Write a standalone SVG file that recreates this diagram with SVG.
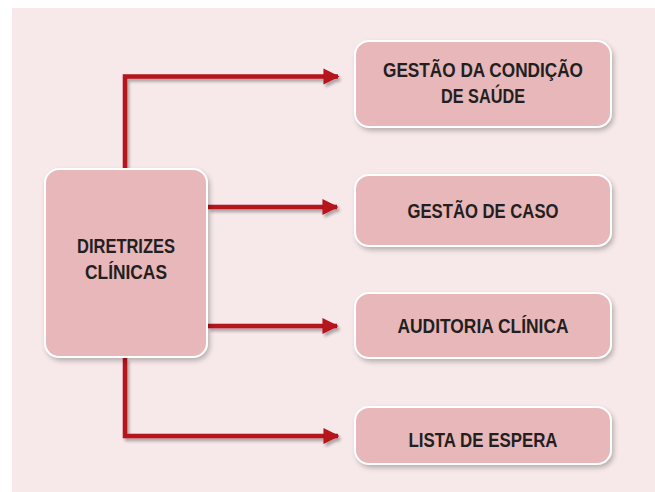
<svg xmlns="http://www.w3.org/2000/svg" width="655" height="492" viewBox="0 0 655 492">
<defs>
<filter id="sh" x="-10%" y="-10%" width="125%" height="130%">
<feGaussianBlur in="SourceAlpha" stdDeviation="2.5"/>
<feOffset dx="2" dy="3" result="b"/>
<feComponentTransfer><feFuncA type="linear" slope="0.25"/></feComponentTransfer>
<feMerge><feMergeNode/><feMergeNode in="SourceGraphic"/></feMerge>
</filter>
<filter id="lsh" x="-10%" y="-10%" width="125%" height="130%">
<feGaussianBlur in="SourceAlpha" stdDeviation="1.5"/>
<feOffset dx="2" dy="3" result="b"/>
<feComponentTransfer><feFuncA type="linear" slope="0.3"/></feComponentTransfer>
<feMerge><feMergeNode/><feMergeNode in="SourceGraphic"/></feMerge>
</filter>
<marker id="ah" viewBox="0 0 10 10" refX="9" refY="5" markerWidth="3.6" markerHeight="3.8" orient="auto" markerUnits="strokeWidth">
<path d="M0,0 L10,5 L0,10 z" fill="#b5121b"/>
</marker>
</defs>
<style>
.box{fill:#e8b7ba;stroke:#ffffff;stroke-width:2;filter:url(#sh)}
.t{font-family:"Liberation Sans",Arial,sans-serif;font-weight:bold;font-size:21px;fill:#231f20;text-anchor:middle}
.c{fill:none;stroke:#b5121b;stroke-width:4.5;stroke-linejoin:miter;marker-end:url(#ah)}
</style>
<rect x="12" y="8" width="643" height="484" fill="#f7e9ea"/>
<g id="connectors" filter="url(#lsh)">
<path class="c" d="M125,168 L125,76.5 L338,76.5"/>
<path class="c" d="M208,207 L337,207"/>
<path class="c" d="M208,326 L337,326"/>
<path class="c" d="M125,358 L125,436 L338,436"/>
</g>
<g id="diretrizes">
<rect class="box" x="45" y="169" width="162" height="188" rx="14"/>
<text class="t" x="126" y="253" textLength="98" lengthAdjust="spacingAndGlyphs">DIRETRIZES</text>
<text class="t" x="126" y="279" textLength="82" lengthAdjust="spacingAndGlyphs">CLÍNICAS</text>
</g>
<g id="gestao-condicao">
<rect class="box" x="355" y="41" width="256" height="86" rx="14"/>
<text class="t" x="483" y="77" textLength="200" lengthAdjust="spacingAndGlyphs">GESTÃO DA CONDIÇÃO</text>
<text class="t" x="483" y="103" textLength="84" lengthAdjust="spacingAndGlyphs">DE SAÚDE</text>
</g>
<g id="gestao-caso">
<rect class="box" x="355" y="175" width="256" height="71" rx="14"/>
<text class="t" x="483" y="218" textLength="151" lengthAdjust="spacingAndGlyphs">GESTÃO DE CASO</text>
</g>
<g id="auditoria">
<rect class="box" x="355" y="293" width="256" height="65" rx="14"/>
<text class="t" x="483" y="333" textLength="171" lengthAdjust="spacingAndGlyphs">AUDITORIA CLÍNICA</text>
</g>
<g id="lista">
<rect class="box" x="355" y="407" width="256" height="57" rx="14"/>
<text class="t" x="483" y="447" textLength="149" lengthAdjust="spacingAndGlyphs">LISTA DE ESPERA</text>
</g>
</svg>
